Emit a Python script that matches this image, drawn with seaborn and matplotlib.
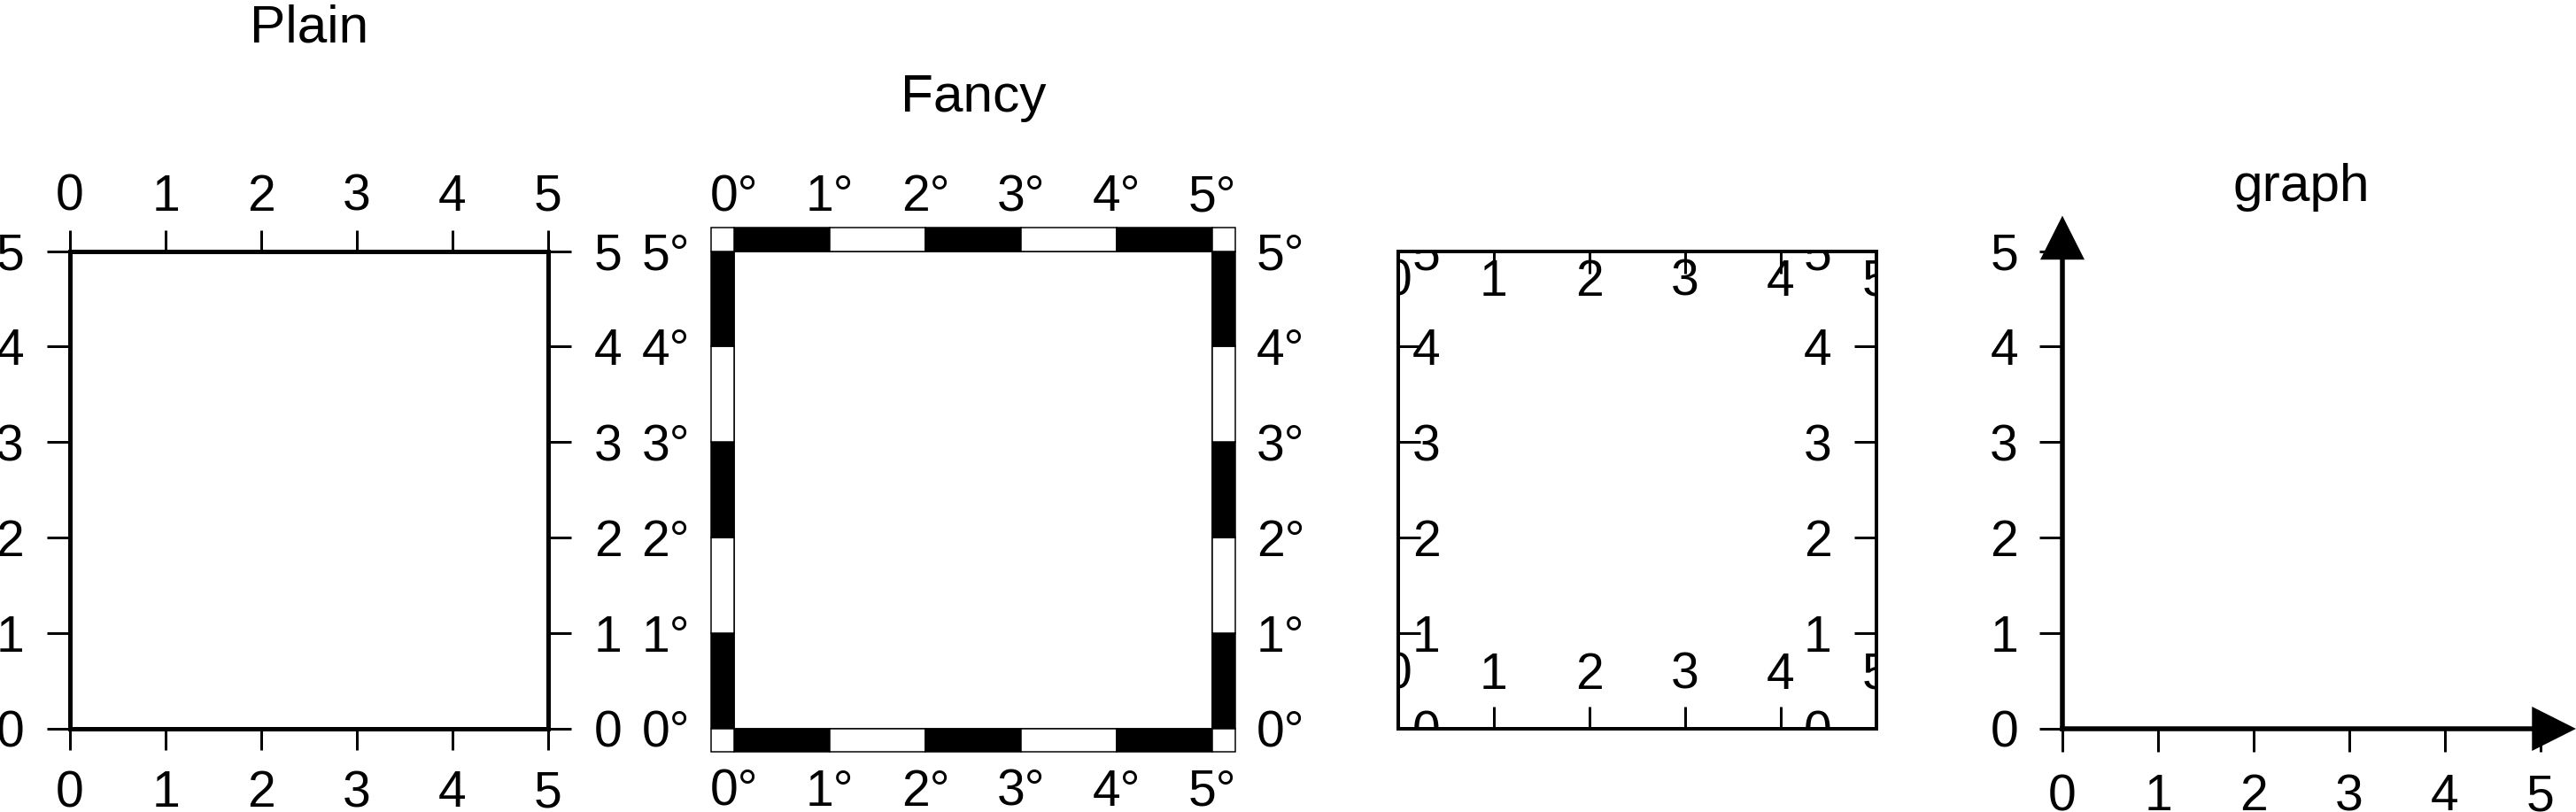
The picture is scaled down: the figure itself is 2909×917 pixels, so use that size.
import matplotlib
matplotlib.use("Agg")
import matplotlib.pyplot as plt
import matplotlib.transforms as mtransforms
from matplotlib.patches import Rectangle
import seaborn as sns

# ---------------- data ----------------
panel_titles = ["Plain", "Fancy", "", "graph"]
x_range = [0, 5]
y_range = [0, 5]
x_ticks = [0, 1, 2, 3, 4, 5]
y_ticks = [0, 1, 2, 3, 4, 5]
plain_labels = ["0", "1", "2", "3", "4", "5"]
fancy_labels = ["0°", "1°", "2°", "3°", "4°", "5°"]

# ---------------- style ----------------
sns.set_theme(style="ticks", rc={
    "axes.edgecolor": "black", "xtick.color": "black", "ytick.color": "black",
    "text.color": "black", "axes.labelcolor": "black",
    "axes.facecolor": "white", "figure.facecolor": "white",
})
plt.rcParams["font.family"] = ["Liberation Sans", "DejaVu Sans"]

W, H = 2909, 917
DPI = 100
PX = 72.0 / DPI          # points per pixel
FS = 41                  # tick label size
TFS = 43.5               # title size
AX_W, AX_H = 540, 539.5
AX_BOTTOM = 823

fig = plt.figure(figsize=(W / DPI, H / DPI), dpi=DPI)


def add_ax(left_px):
    ax = fig.add_axes([left_px / W, (H - AX_BOTTOM) / H, AX_W / W, AX_H / H])
    ax.set_xlim(*x_range)
    ax.set_ylim(*y_range)
    ax.set_facecolor("white")
    return ax


def add_title(ax, text, rise_px):
    if text:
        ax.annotate(text, xy=(0.5, 1), xycoords="axes fraction",
                    xytext=(0, rise_px * PX), textcoords="offset points",
                    ha="center", va="baseline", fontsize=TFS)


# ---------------- Panel 1: Plain ----------------
ax1 = add_ax(79)
ax1.set_xticks(x_ticks, plain_labels)
ax1.set_yticks(y_ticks, plain_labels)
for s in ax1.spines.values():
    s.set_visible(True)
    s.set_linewidth(5 * PX)
    s.set_color("black")
ax1.tick_params(axis="both", direction="out", width=3 * PX, labelsize=FS, colors="black")
ax1.tick_params(axis="x", length=24 * PX, pad=22 * PX, top=True, labeltop=True,
                bottom=True, labelbottom=True)
ax1.tick_params(axis="y", length=26 * PX, pad=26 * PX, left=True, right=True,
                labelleft=True, labelright=True)
for t in ax1.xaxis.get_major_ticks():
    t.label2.set_verticalalignment("baseline")
add_title(ax1, panel_titles[0], 235.5)

# ---------------- Panel 2: Fancy ----------------
ax2 = add_ax(829)
ax2.set_xticks(x_ticks, fancy_labels)
ax2.set_yticks(y_ticks, fancy_labels)
for s in ax2.spines.values():
    s.set_visible(True)
    s.set_linewidth(1.5 * PX)
    s.set_color("black")
ax2.tick_params(axis="both", length=0, labelsize=FS, colors="black")
ax2.tick_params(axis="x", pad=45 * PX, top=True, labeltop=True, bottom=True, labelbottom=True)
ax2.tick_params(axis="y", pad=50 * PX, left=True, right=True, labelleft=True, labelright=True)
for t in ax2.xaxis.get_major_ticks():
    t.label2.set_verticalalignment("baseline")

tbx = 26 * (x_range[1] - x_range[0]) / AX_W   # bar thickness in data units
tby = 26 * (y_range[1] - y_range[0]) / AX_H
bar_kw = dict(edgecolor="black", linewidth=1.5 * PX, clip_on=False, zorder=3)
for i in range(len(x_ticks) - 1):
    c = "black" if i % 2 == 0 else "white"
    x0, x1 = x_ticks[i], x_ticks[i + 1]
    ax2.add_patch(Rectangle((x0, y_range[0] - tby), x1 - x0, tby, facecolor=c, **bar_kw))
    ax2.add_patch(Rectangle((x0, y_range[1]), x1 - x0, tby, facecolor=c, **bar_kw))
for i in range(len(y_ticks) - 1):
    c = "black" if i % 2 == 0 else "white"
    y0, y1 = y_ticks[i], y_ticks[i + 1]
    ax2.add_patch(Rectangle((x_range[0] - tbx, y0), tbx, y1 - y0, facecolor=c, **bar_kw))
    ax2.add_patch(Rectangle((x_range[1], y0), tbx, y1 - y0, facecolor=c, **bar_kw))
for cx in (x_range[0] - tbx, x_range[1]):
    for cy in (y_range[0] - tby, y_range[1]):
        ax2.add_patch(Rectangle((cx, cy), tbx, tby, facecolor="white", **bar_kw))
add_title(ax2, panel_titles[1], 157.5)

# ---------------- Panel 3: inside annotations ----------------
ax3 = add_ax(1579)
ax3.set_xticks(x_ticks)
ax3.set_yticks(y_ticks)
for s in ax3.spines.values():
    s.set_visible(True)
    s.set_linewidth(4 * PX)
    s.set_color("black")
ax3.tick_params(axis="both", direction="in", length=25 * PX, width=3 * PX, colors="black",
                top=True, bottom=True, left=True, right=True,
                labelbottom=False, labelleft=False, labeltop=False, labelright=False)


def off(dx, dy):
    return mtransforms.offset_copy(ax3.transData, fig=fig, x=dx, y=dy, units="dots")


txt_kw = dict(ha="center", va="center_baseline", fontsize=FS, clip_on=True)
for x, lab in zip(x_ticks, plain_labels):
    ax3.text(x, y_range[0], lab, transform=off(0, 66), **txt_kw)
    ax3.text(x, y_range[1], lab, transform=off(0, -29), **txt_kw)
for y, lab in zip(y_ticks, plain_labels):
    ax3.text(x_range[0], y, lab, transform=off(32, 0), **txt_kw)
    ax3.text(x_range[1], y, lab, transform=off(-66, 0), **txt_kw)

# ---------------- Panel 4: graph ----------------
ax4 = add_ax(2329)
sns.despine(ax=ax4)
ax4.set_xticks(x_ticks, plain_labels)
ax4.set_yticks(y_ticks, plain_labels)
for side in ("left", "bottom"):
    ax4.spines[side].set_linewidth(5.5 * PX)
    ax4.spines[side].set_color("black")
ax4.tick_params(axis="both", direction="out", length=26 * PX, width=3 * PX,
                pad=24 * PX, labelsize=FS, colors="black")
hb = 0.09   # arrow head base below axis end
ht = 0.37   # arrow head tip beyond axis end
hw = 25 * (y_range[1] - y_range[0]) / AX_H
ax4.fill([x_range[1] - hb, x_range[1] - hb, x_range[1] + ht],
         [y_range[0] - hw, y_range[0] + hw, y_range[0]],
         color="black", clip_on=False, zorder=5, linewidth=0)
hwx = 25 * (x_range[1] - x_range[0]) / AX_W
ax4.fill([x_range[0] - hwx, x_range[0] + hwx, x_range[0]],
         [y_range[1] - hb, y_range[1] - hb, y_range[1] + ht],
         color="black", clip_on=False, zorder=5, linewidth=0)
add_title(ax4, panel_titles[3], 56.5)

fig.savefig("out.png", dpi=DPI)
